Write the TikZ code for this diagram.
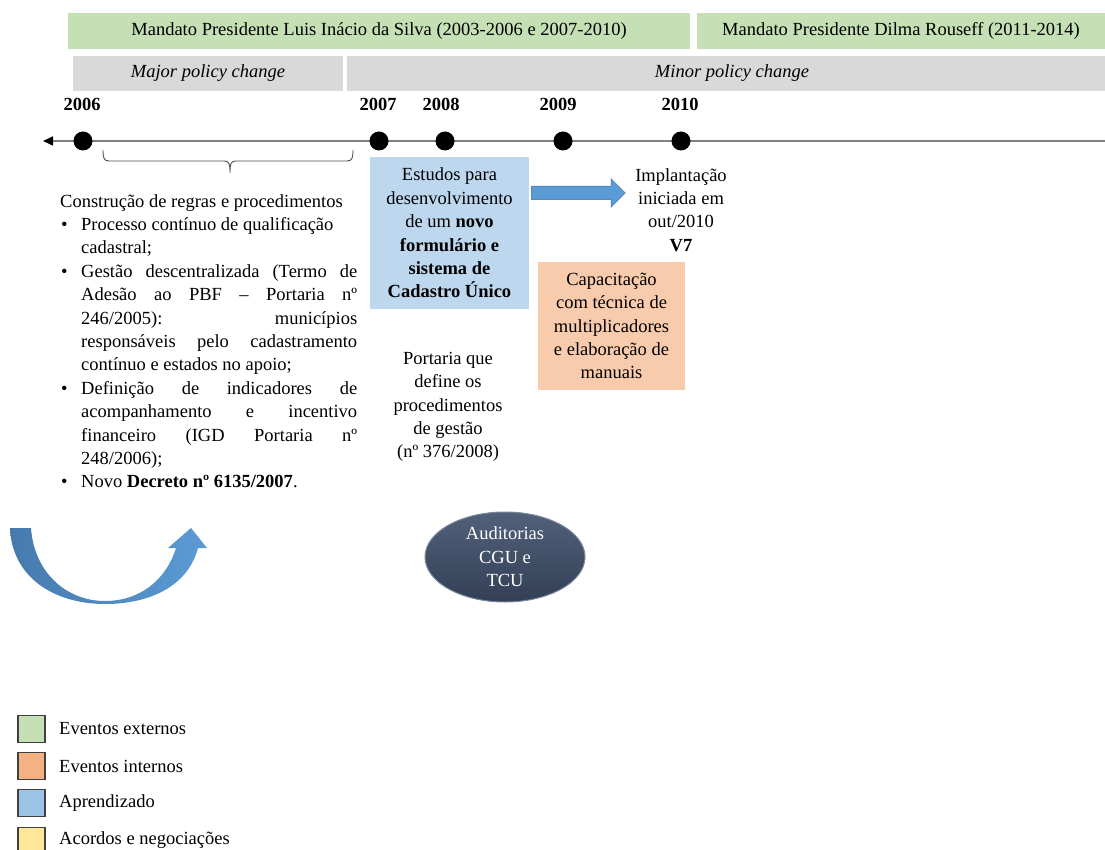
\documentclass[tikz,border=0pt]{standalone}
\usepackage{fontspec}
\setmainfont{Liberation Serif}
\usetikzlibrary{arrows.meta,shapes.geometric,shapes.arrows}

\definecolor{cgreen}{HTML}{C5E0B4}
\definecolor{cgray}{HTML}{D9D9D9}
\definecolor{cblue}{HTML}{BDD7EE}
\definecolor{corange}{HTML}{F8CBAD}
\definecolor{lgreen}{HTML}{C5E0B4}
\definecolor{lorange}{HTML}{F4B183}
\definecolor{lblue}{HTML}{9DC3E6}
\definecolor{lyellow}{HTML}{FFE699}
\definecolor{arrowlight}{HTML}{5B9BD5}
\definecolor{arrowdark}{HTML}{41719C}
\definecolor{curvedark}{HTML}{467AAD}
\definecolor{ovaltop}{HTML}{52617A}
\definecolor{ovalbot}{HTML}{323F56}
\definecolor{ovalrim}{HTML}{7A879C}
\definecolor{lineg}{HTML}{7F7F7F}

% bullet item with hanging indent
\newcommand{\blt}{\noindent\hangindent=21pt\hangafter=1\makebox[21pt][l]{\hspace{1pt}•}}

\begin{document}
\begin{tikzpicture}[x=1pt,y=-1pt,
  every node/.style={font=\fontsize{18.5}{23.4}\selectfont, inner sep=0pt},
  band/.style={fill=#1, minimum height=36pt},
  yearlbl/.style={font=\fontsize{18.5}{23.4}\selectfont\bfseries},
  tdot/.style={circle, fill=black, minimum size=19pt},
  timeline/.style={draw=lineg, line width=1.6pt,
    -{Triangle[length=10pt,width=9pt,color=black]}},
  bracket/.style={draw=black!70, line width=0.9pt},
  textbox/.style={fill=#1, align=center},
  legbox/.style={draw=black!75, line width=1.3pt, fill=#1, minimum size=27pt},
  legtext/.style={anchor=west}]

\useasboundingbox (0,0) rectangle (1105,850);

% presidential terms
\node[band=cgreen, minimum width=622pt] (lula) at (379,31)
  {Mandato Presidente Luis Inácio da Silva (2003-2006 e 2007-2010)};
\node[band=cgreen, minimum width=408pt] (dilma) at (901,31)
  {Mandato Presidente Dilma Rouseff (2011-2014)};

% policy change phases
\node[band=cgray, minimum width=270pt, minimum height=35pt] (major) at (208,73.5)
  {\itshape Major policy change};
\node[band=cgray, minimum width=758pt, minimum height=35pt] (minor) at (726,73.5)
  {\hspace*{12pt}\itshape Minor policy change};

% years
\node[yearlbl] (y2006) at (82,104) {2006};
\node[yearlbl] (y2007) at (378,104) {2007};
\node[yearlbl] (y2008) at (441,104) {2008};
\node[yearlbl] (y2009) at (558,104) {2009};
\node[yearlbl] (y2010) at (680,104) {2010};

% time axis
\coordinate (tlR) at (1105,141);
\coordinate (tlL) at (43,141);
\draw[timeline] (tlR) -- (tlL);
\node[tdot] (d2006) at (83,141) {};
\node[tdot] (d2007) at (379,141) {};
\node[tdot] (d2008) at (445,141) {};
\node[tdot] (d2009) at (563,141) {};
\node[tdot] (d2010) at (681,141) {};

% bracket under the 2006-2007 span
\coordinate (bL) at (103,150);
\coordinate (bR) at (353,150);
\draw[bracket] (bL) .. controls (103,158) and (104,161) .. (109,161) -- (224,161)
  .. controls (229,161) and (230,163) .. (230,173)
  .. controls (230,163) and (231,161) .. (236,161) -- (347,161)
  .. controls (352,161) and (353,158) .. (bR);

% rules and procedures
\node[anchor=north west, text width=297pt, align=justify] (regras) at (60,194) {%
\noindent Construção de regras e procedimentos\par
\blt Processo contínuo de qualificação\newline cadastral;\par
\blt Gestão descentralizada (Termo de\linebreak Adesão ao PBF -- Portaria nº\linebreak
246/2005): municípios\linebreak responsáveis pelo cadastramento\linebreak
contínuo e estados no apoio;\par
\blt Definição de indicadores de\linebreak acompanhamento e incentivo\linebreak
financeiro (IGD Portaria nº\linebreak 248/2006);\par
\blt Novo \textbf{Decreto nº 6135/2007}.\par};

% learning box
\node[textbox=cblue, minimum width=159pt, minimum height=152pt] (estudos) at (449.5,233)
  {Estudos para\\ desenvolvimento\\ de um \textbf{novo}\\ \textbf{formulário e}\\
   \textbf{sistema de}\\ \textbf{Cadastro Único}};

% flow arrow towards implementation
\node[single arrow, single arrow head extend=7.5pt, single arrow head indent=0pt,
  inner xsep=0pt, inner ysep=6.5pt, minimum height=94pt, fill=arrowlight,
  draw=arrowdark, line width=0.5pt] (flow) at (575,193) {};

\node[align=center] (impl) at (681,210)
  {Implantação\\ iniciada em\\ out/2010\\ \textbf{V7}};

% internal event
\node[textbox=corange, minimum width=147pt, minimum height=128pt] (capac) at (611.5,326)
  {Capacitação\\ com técnica de\\ multiplicadores\\ e elaboração de\\ manuais};

\node[align=center] (port) at (448,407)
  {Portaria que\\ define os\\ procedimentos\\ de gestão\\ (nº 376/2008)};

% audits
\node[ellipse, minimum width=160pt, minimum height=90pt, top color=ovaltop,
  bottom color=ovalbot, draw=ovalrim, line width=1pt, text=white, align=center]
  (aud) at (505,557) {Auditorias\\ CGU e\\ TCU};

% curved feedback arrow
\path[left color=curvedark, right color=arrowlight]
  (10,528) .. controls (12,578) and (55,604) .. (105,604)
  .. controls (150,604) and (188,586) .. (198,548)
  -- (207,548) -- (191,528) -- (168,548) -- (176,548)
  .. controls (166,580) and (140,601) .. (105,601)
  .. controls (66,601) and (34,572) .. (31,528) -- cycle;

% legend
\node[legbox=lgreen] (k1) at (31.5,729) {};
\node[legbox=lorange] (k2) at (31.5,766) {};
\node[legbox=lblue] (k3) at (31.5,803) {};
\node[legbox=lyellow] (k4) at (31.5,841) {};
\node[legtext] (t1) at (59,729) {Eventos externos};
\node[legtext] (t2) at (59,766) {Eventos internos};
\node[legtext] (t3) at (59,803) {Aprendizado};
\node[legtext] (t4) at (59,840) {Acordos e negociações};

\end{tikzpicture}
\end{document}
